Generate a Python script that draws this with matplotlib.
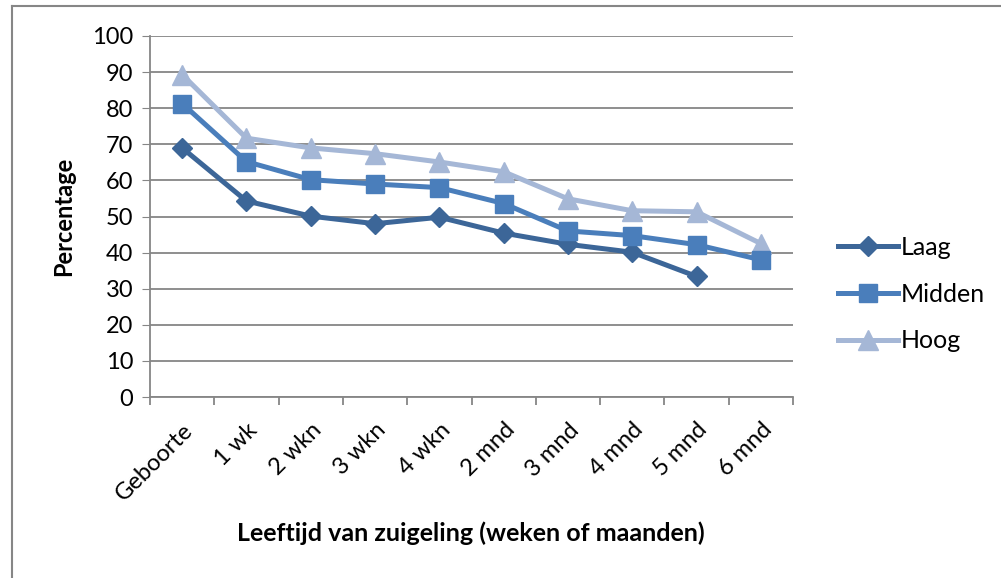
#!/usr/bin/env python3
import matplotlib
matplotlib.use('Agg')
import matplotlib.pyplot as plt
from matplotlib.lines import Line2D

categories = ['Geboorte', '1 wk', '2 wkn', '3 wkn', '4 wkn',
              '2 mnd', '3 mnd', '4 mnd', '5 mnd', '6 mnd']
laag = [69.0, 54.3, 50.1, 48.0, 49.8, 45.4, 42.3, 40.1, 33.4]
midden = [81.3, 65.2, 60.2, 59.0, 58.0, 53.6, 46.0, 44.7, 42.2, 38.0]
hoog = [89.3, 71.7, 69.0, 67.4, 65.1, 62.4, 54.9, 51.6, 51.3, 42.5]
yticks = list(range(0, 101, 10))

plt.rcParams['font.family'] = ['Lato', 'DejaVu Sans']

fig = plt.figure(figsize=(10.01, 5.78), dpi=100)
ax = fig.add_axes([150 / 1001, 1 - 397 / 578, 643 / 1001, 361 / 578])

c_laag = '#3c6698'
c_mid = '#4a7ebb'
c_hoog = '#a5b7d6'

ax.plot(range(len(laag)), laag, color=c_laag, lw=3.6, marker='D',
        ms=10, mec=c_laag, label='Laag', zorder=3)
ax.plot(range(len(midden)), midden, color=c_mid, lw=3.6, marker='s',
        ms=13, mec=c_mid, label='Midden', zorder=3)
ax.plot(range(len(hoog)), hoog, color=c_hoog, lw=3.6, marker='^',
        ms=14, mec=c_hoog, label='Hoog', zorder=2)

ax.set_xlim(-0.5, len(categories) - 0.5)
ax.set_ylim(0, 100)
ax.set_yticks(yticks)
ax.tick_params(axis='y', labelsize=17, length=6, color='#868686', pad=6)
ax.yaxis.grid(True, color='#868686', lw=1.3)
ax.set_axisbelow(True)

ax.set_xticks(range(len(categories)))
ax.set_xticklabels(categories, rotation=45, ha='right',
                   rotation_mode='anchor', fontsize=17)
ax.tick_params(axis='x', length=0, pad=16)
ax.set_xticks([i - 0.5 for i in range(len(categories) + 1)], minor=True)
ax.tick_params(axis='x', which='minor', length=6, color='#868686', width=1.3)

for s in ['top', 'right']:
    ax.spines[s].set_visible(False)
for s in ['left', 'bottom']:
    ax.spines[s].set_color('#868686')
    ax.spines[s].set_linewidth(1.3)

ax.set_ylabel('Percentage', fontsize=17, fontweight='bold', labelpad=12)
fig.text(471 / 1001, 1 - 533 / 578, 'Leeftijd van zuigeling (weken of maanden)',
         fontsize=18, fontweight='bold', ha='center', va='center')

ax.legend(loc='center left', bbox_to_anchor=(1.035, 0.285), frameon=False,
          fontsize=18, handlelength=2.4, handletextpad=0.1,
          labelspacing=0.95)

fig.add_artist(Line2D([12 / 1001, 1], [1 - 6 / 578, 1 - 6 / 578],
                      transform=fig.transFigure, color='#868686', lw=1.5))
fig.add_artist(Line2D([12 / 1001, 12 / 1001], [0, 1 - 6 / 578],
                      transform=fig.transFigure, color='#868686', lw=1.5))

fig.savefig('out.png', dpi=100)
